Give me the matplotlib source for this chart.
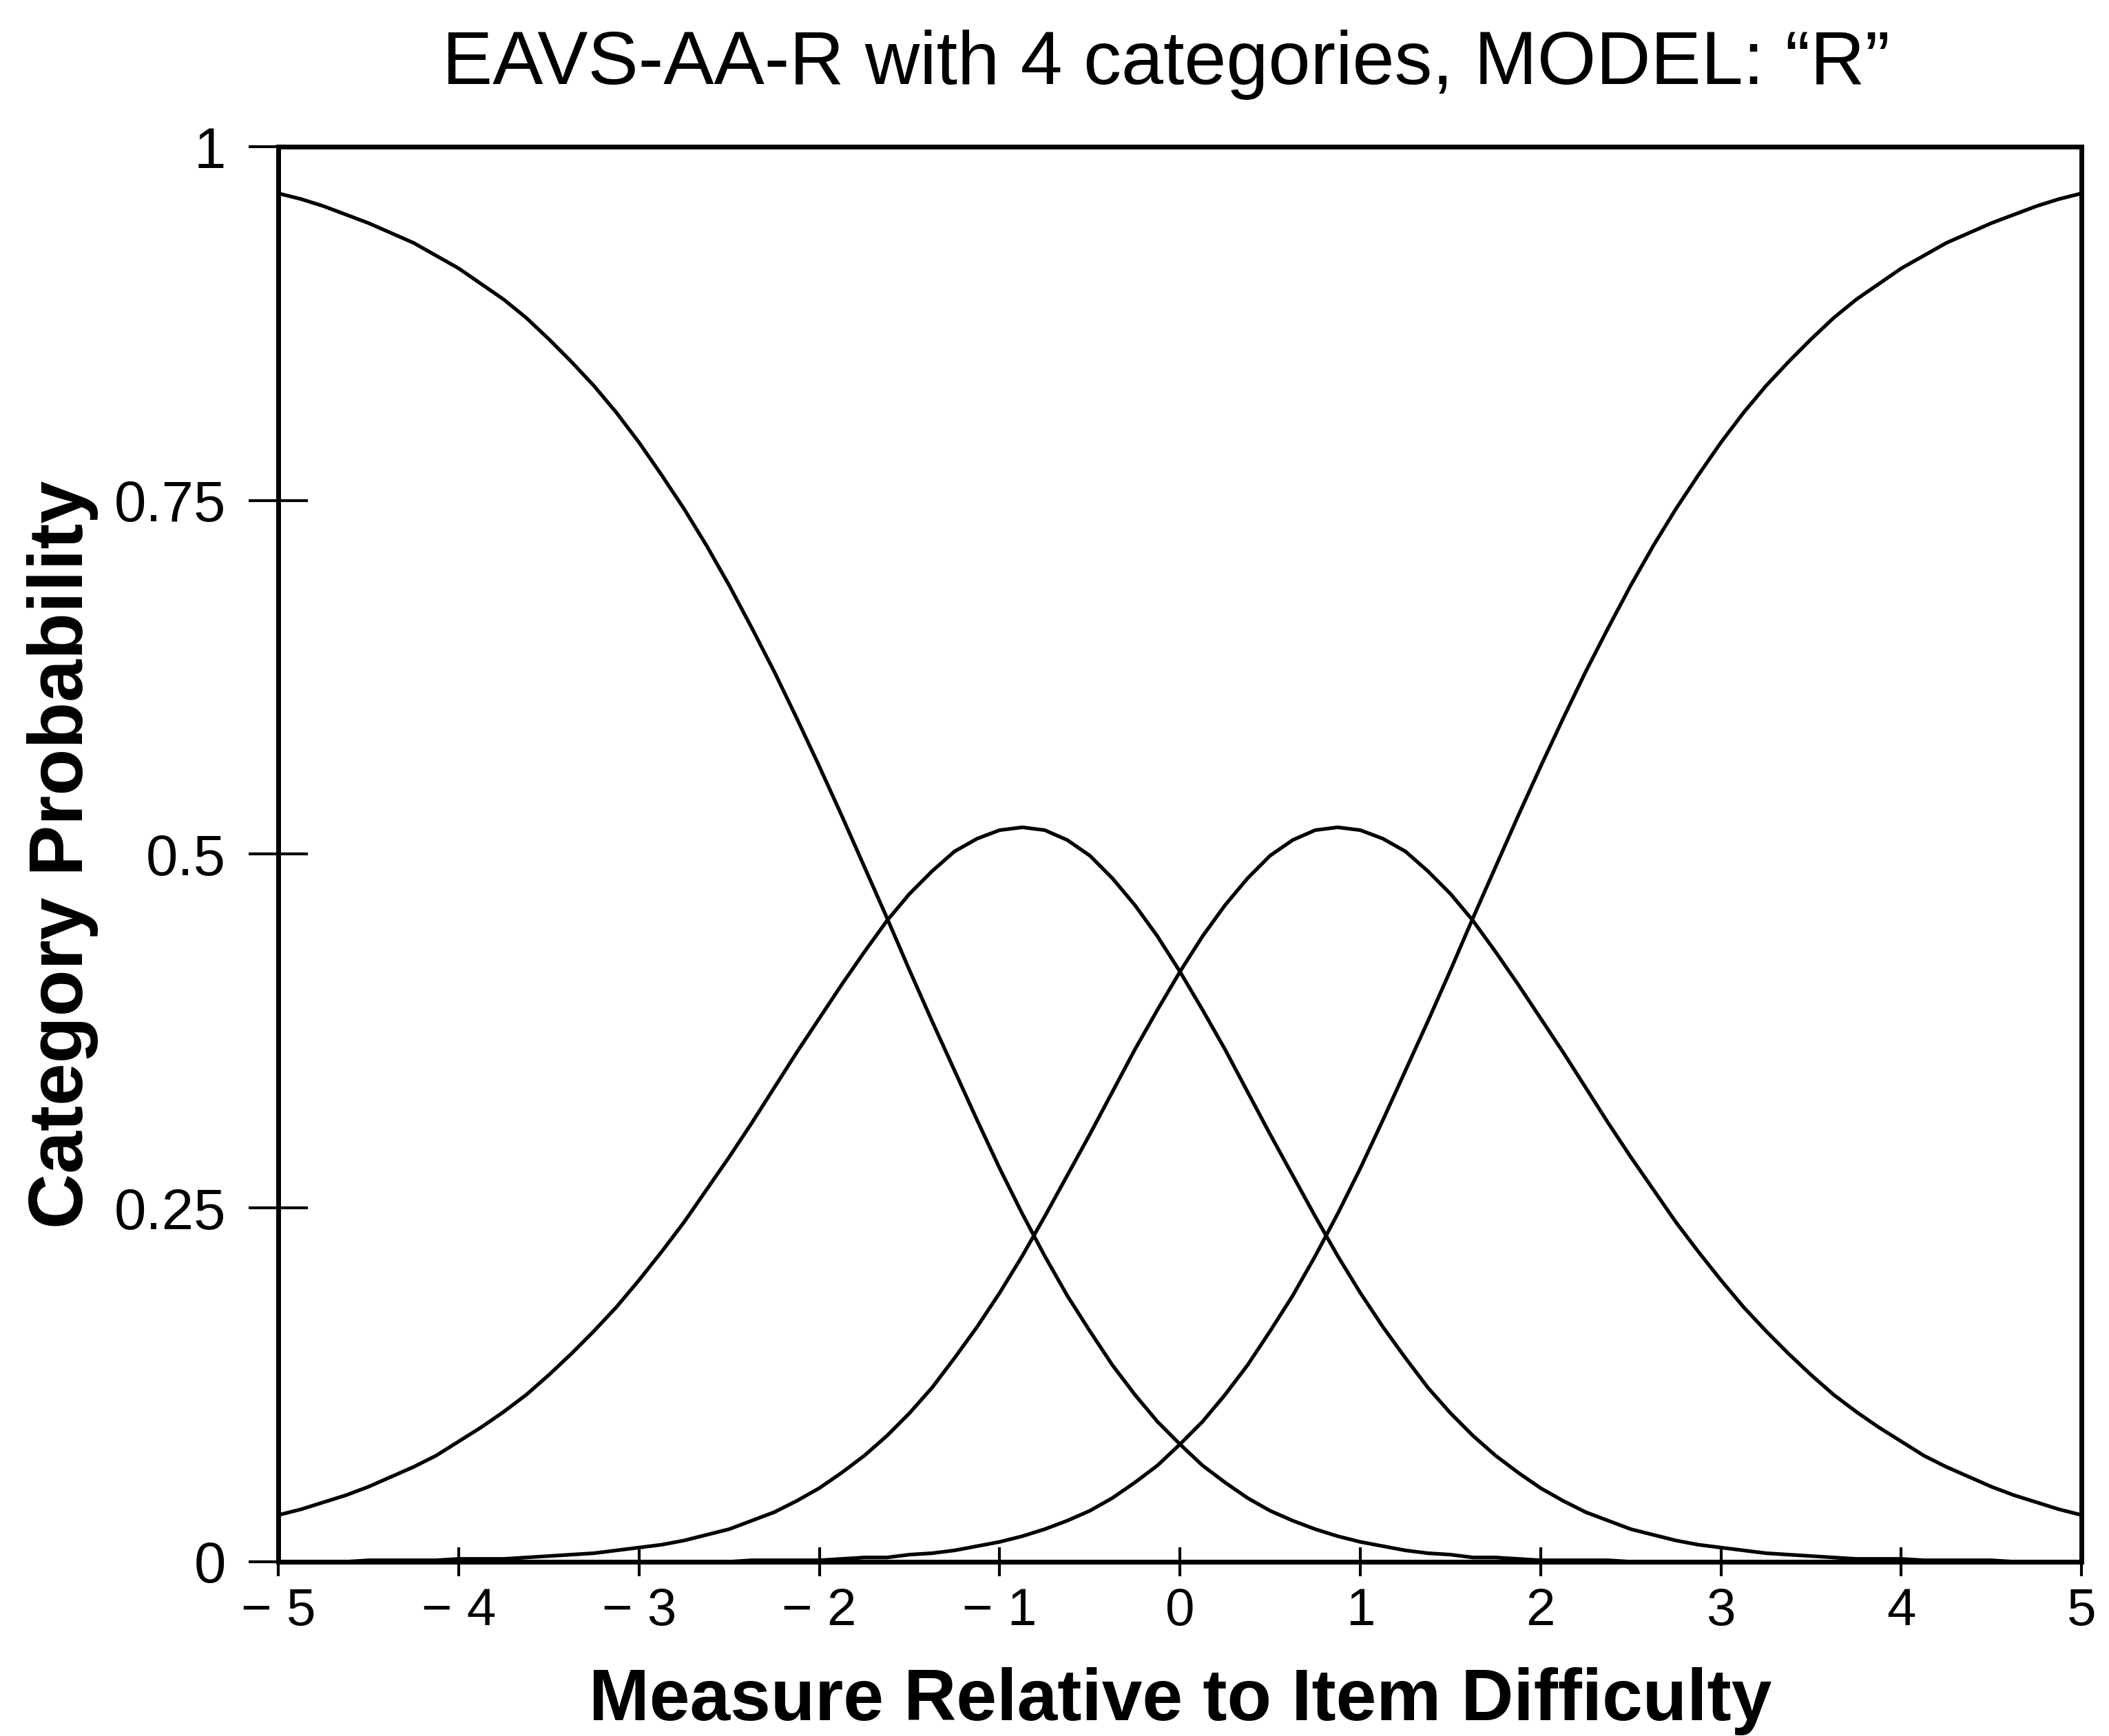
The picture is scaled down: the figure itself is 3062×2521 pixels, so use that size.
import matplotlib
matplotlib.use("Agg")
import matplotlib.pyplot as plt

plt.rcParams['font.family'] = ['Liberation Sans', 'DejaVu Sans']

# measure relative to item difficulty, -5 .. 5 in steps of 0.125
measure = [i / 8 for i in range(-40, 41)]

# category probabilities
cat1 = [0.967, 0.963, 0.958, 0.952, 0.946, 0.939, 0.932, 0.923, 0.914, 0.903,
        0.892, 0.879, 0.864, 0.848, 0.831, 0.812, 0.791, 0.768, 0.744, 0.718,
        0.690, 0.660, 0.629, 0.596, 0.562, 0.527, 0.491, 0.455, 0.418, 0.382,
        0.347, 0.312, 0.278, 0.246, 0.216, 0.188, 0.163, 0.139, 0.118, 0.099,
        0.083,
        0.068, 0.056, 0.045, 0.036, 0.029, 0.023, 0.018, 0.014, 0.011, 0.008,
        0.006, 0.005, 0.003, 0.003, 0.002, 0.001, 0.001, 0.001, 0.001, 0.0,
        0.0, 0.0, 0.0, 0.0, 0.0, 0.0, 0.0, 0.0, 0.0, 0.0,
        0.0, 0.0, 0.0, 0.0, 0.0, 0.0, 0.0, 0.0, 0.0, 0.0]
cat2 = [0.033, 0.037, 0.042, 0.047, 0.053, 0.060, 0.067, 0.075, 0.085, 0.095,
        0.106, 0.118, 0.132, 0.147, 0.163, 0.180, 0.199, 0.219, 0.240, 0.263,
        0.286, 0.310, 0.335, 0.360, 0.384, 0.408, 0.431, 0.453, 0.472, 0.488,
        0.502, 0.511, 0.517, 0.519, 0.517, 0.510, 0.499, 0.483, 0.464, 0.442,
        0.417,
        0.390, 0.362, 0.332, 0.302, 0.273, 0.244, 0.216, 0.190, 0.166, 0.144,
        0.123, 0.105, 0.089, 0.075, 0.063, 0.052, 0.043, 0.035, 0.029, 0.023,
        0.019, 0.015, 0.012, 0.010, 0.008, 0.006, 0.005, 0.004, 0.003, 0.002,
        0.002, 0.002, 0.001, 0.001, 0.001, 0.001, 0.0, 0.0, 0.0, 0.0]
cat3 = [0.0, 0.0, 0.0, 0.0, 0.001, 0.001, 0.001, 0.001, 0.002, 0.002,
        0.002, 0.003, 0.004, 0.005, 0.006, 0.008, 0.010, 0.012, 0.015, 0.019,
        0.023, 0.029, 0.035, 0.043, 0.052, 0.063, 0.075, 0.089, 0.105, 0.123,
        0.144, 0.166, 0.190, 0.216, 0.244, 0.273, 0.302, 0.332, 0.362, 0.390,
        0.417,
        0.442, 0.464, 0.483, 0.499, 0.510, 0.517, 0.519, 0.517, 0.511, 0.502,
        0.488, 0.472, 0.453, 0.431, 0.408, 0.384, 0.360, 0.335, 0.310, 0.286,
        0.263, 0.240, 0.219, 0.199, 0.180, 0.163, 0.147, 0.132, 0.118, 0.106,
        0.095, 0.085, 0.075, 0.067, 0.060, 0.053, 0.047, 0.042, 0.037, 0.033]
cat4 = [0.0, 0.0, 0.0, 0.0, 0.0, 0.0, 0.0, 0.0, 0.0, 0.0,
        0.0, 0.0, 0.0, 0.0, 0.0, 0.0, 0.0, 0.0, 0.0, 0.0,
        0.0, 0.001, 0.001, 0.001, 0.001, 0.002, 0.003, 0.003, 0.005, 0.006,
        0.008, 0.011, 0.014, 0.018, 0.023, 0.029, 0.036, 0.045, 0.056, 0.068,
        0.083,
        0.099, 0.118, 0.139, 0.163, 0.188, 0.216, 0.246, 0.278, 0.312, 0.347,
        0.382, 0.418, 0.455, 0.491, 0.527, 0.562, 0.596, 0.629, 0.660, 0.690,
        0.718, 0.744, 0.768, 0.791, 0.812, 0.831, 0.848, 0.864, 0.879, 0.892,
        0.903, 0.914, 0.923, 0.932, 0.939, 0.946, 0.952, 0.958, 0.963, 0.967]

xticks = [-5, -4, -3, -2, -1, 0, 1, 2, 3, 4, 5]
yticks = [0, 0.25, 0.5, 0.75, 1]
ytick_labels = ["0", "0.25", "0.5", "0.75", "1"]

fig = plt.figure(figsize=(30.62, 25.21), dpi=100)
ax = fig.add_axes([0.132, 0.1004, 0.855, 0.8151])

for c in (cat1, cat2, cat3, cat4):
    ax.plot(measure, c, color="black", lw=3.8, solid_joinstyle="round")

ax.set_xlim(-5, 5)
ax.set_ylim(0, 1)
ax.set_xticks(xticks)
ax.set_xticklabels([str(t).replace("-", "\u2212 ") for t in xticks])
ax.set_yticks(yticks)
ax.set_yticklabels(ytick_labels)

ax.tick_params(axis="y", direction="inout", length=62, width=3, pad=24, labelsize=60)
ax.tick_params(axis="x", direction="inout", length=30, width=3, pad=12, labelsize=55)
for s in ax.spines.values():
    s.set_linewidth(5)

ax.set_xlabel("Measure Relative to Item Difficulty", fontsize=76, fontweight="bold", labelpad=32)
ax.set_ylabel("Category Probability", fontsize=80, fontweight="bold", labelpad=16)
fig.suptitle("EAVS-AA-R with 4 categories, MODEL: \u201cR\u201d", fontsize=79, x=0.553, y=0.983)

fig.savefig("out.png", dpi=100)
